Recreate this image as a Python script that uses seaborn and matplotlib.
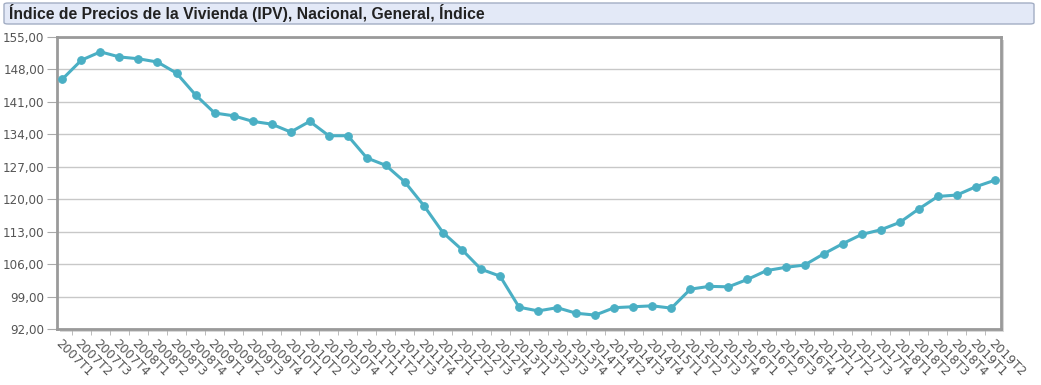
import numpy as np
import pandas as pd
import seaborn as sns
import matplotlib.pyplot as plt
from matplotlib.patches import FancyBboxPatch, Rectangle
from matplotlib.ticker import FuncFormatter, FixedLocator

# datos
anios = list(range(2007, 2020))
periodos = [f'{a}T{t}' for a in anios for t in range(1, 5)][:50]
valores = [145.9, 150.0, 151.8, 150.7, 150.3, 149.6, 147.2, 142.5,
           138.6, 138.0, 136.8, 136.2, 134.5, 136.8, 133.7, 133.7,
           128.9, 127.3, 123.7, 118.6, 112.8, 109.1, 104.9, 103.4,
           96.7, 95.9, 96.6, 95.4, 95.0, 96.6, 96.8, 97.0,
           96.5, 100.6, 101.2, 101.1, 102.7, 104.6, 105.3, 105.8,
           108.2, 110.4, 112.4, 113.4, 115.0, 117.9, 120.6, 120.9,
           122.7, 124.1]
yticks = [92, 99, 106, 113, 120, 127, 134, 141, 148, 155]
titulo = 'Índice de Precios de la Vivienda (IPV), Nacional, General, Índice'

df = pd.DataFrame({'Periodo': periodos, 'Valor': valores})
df['pos'] = np.arange(len(df))

sns.set_style('white')
plt.rcParams['font.family'] = ['DejaVu Sans']

W, H = 1041, 385
fig = plt.figure(figsize=(W / 100, H / 100), dpi=100)

# caja del titulo
caja = FancyBboxPatch((4 / W, 1 - 24 / H), 1030 / W, 21 / H,
                      boxstyle='round,pad=0,rounding_size=0.004',
                      transform=fig.transFigure, facecolor='#e3e9f7',
                      edgecolor='#a3aec4', linewidth=1.0)
fig.patches.append(caja)
fig.text(9 / W, 1 - 13.5 / H, titulo, fontsize=11.3, fontweight='bold',
         family='Liberation Sans', color='#222222', va='center', ha='left')

# sombra del area de grafico
l, r, t, b = 57, 1001, 37, 329
sombra = Rectangle(((l + 3) / W, 1 - (b + 3) / H), (r - l) / W, (b - t) / H,
                   transform=fig.transFigure, facecolor='#d8d8d8',
                   edgecolor='none', zorder=-5)
fig.patches.append(sombra)

ax = fig.add_axes([l / W, 1 - b / H, (r - l) / W, (b - t) / H])
ax.set_zorder(5)
ax.set_facecolor('white')

sns.lineplot(data=df, x='pos', y='Valor', ax=ax, color='#4aafc4',
             linewidth=2.2, marker='o', markersize=5.5,
             markeredgecolor='#4aafc4', zorder=3)

ax.set_xlim(-0.28, len(df) - 1 + 0.32)
ax.set_ylim(yticks[0], yticks[-1])
ax.set_yticks(yticks)
ax.yaxis.set_major_formatter(FuncFormatter(lambda v, p: f'{v:.2f}'.replace('.', ',')))
ax.grid(axis='y', color='#c8c8c8', linewidth=1)
ax.set_axisbelow(True)

ax.set_xticks(df['pos'])
ax.set_xticklabels(df['Periodo'], rotation=-45, ha='left', va='top',
                   rotation_mode='anchor')
ax.xaxis.set_minor_locator(FixedLocator(df['pos'] + 0.5))
ax.tick_params(axis='x', which='major', length=0, pad=6, labelsize=8.8,
               labelcolor='#555555')
ax.tick_params(axis='x', which='minor', length=4, color='#b0b0b0', bottom=True)
ax.tick_params(axis='y', length=7, color='#aaaaaa', labelsize=8.6,
               labelcolor='#555555', pad=2, left=True)
ax.set_xlabel('')
ax.set_ylabel('')

for s in ax.spines.values():
    s.set_visible(True)
    s.set_color('#9a9a9a')
    s.set_linewidth(2)

fig.savefig('out.png', dpi=100)
